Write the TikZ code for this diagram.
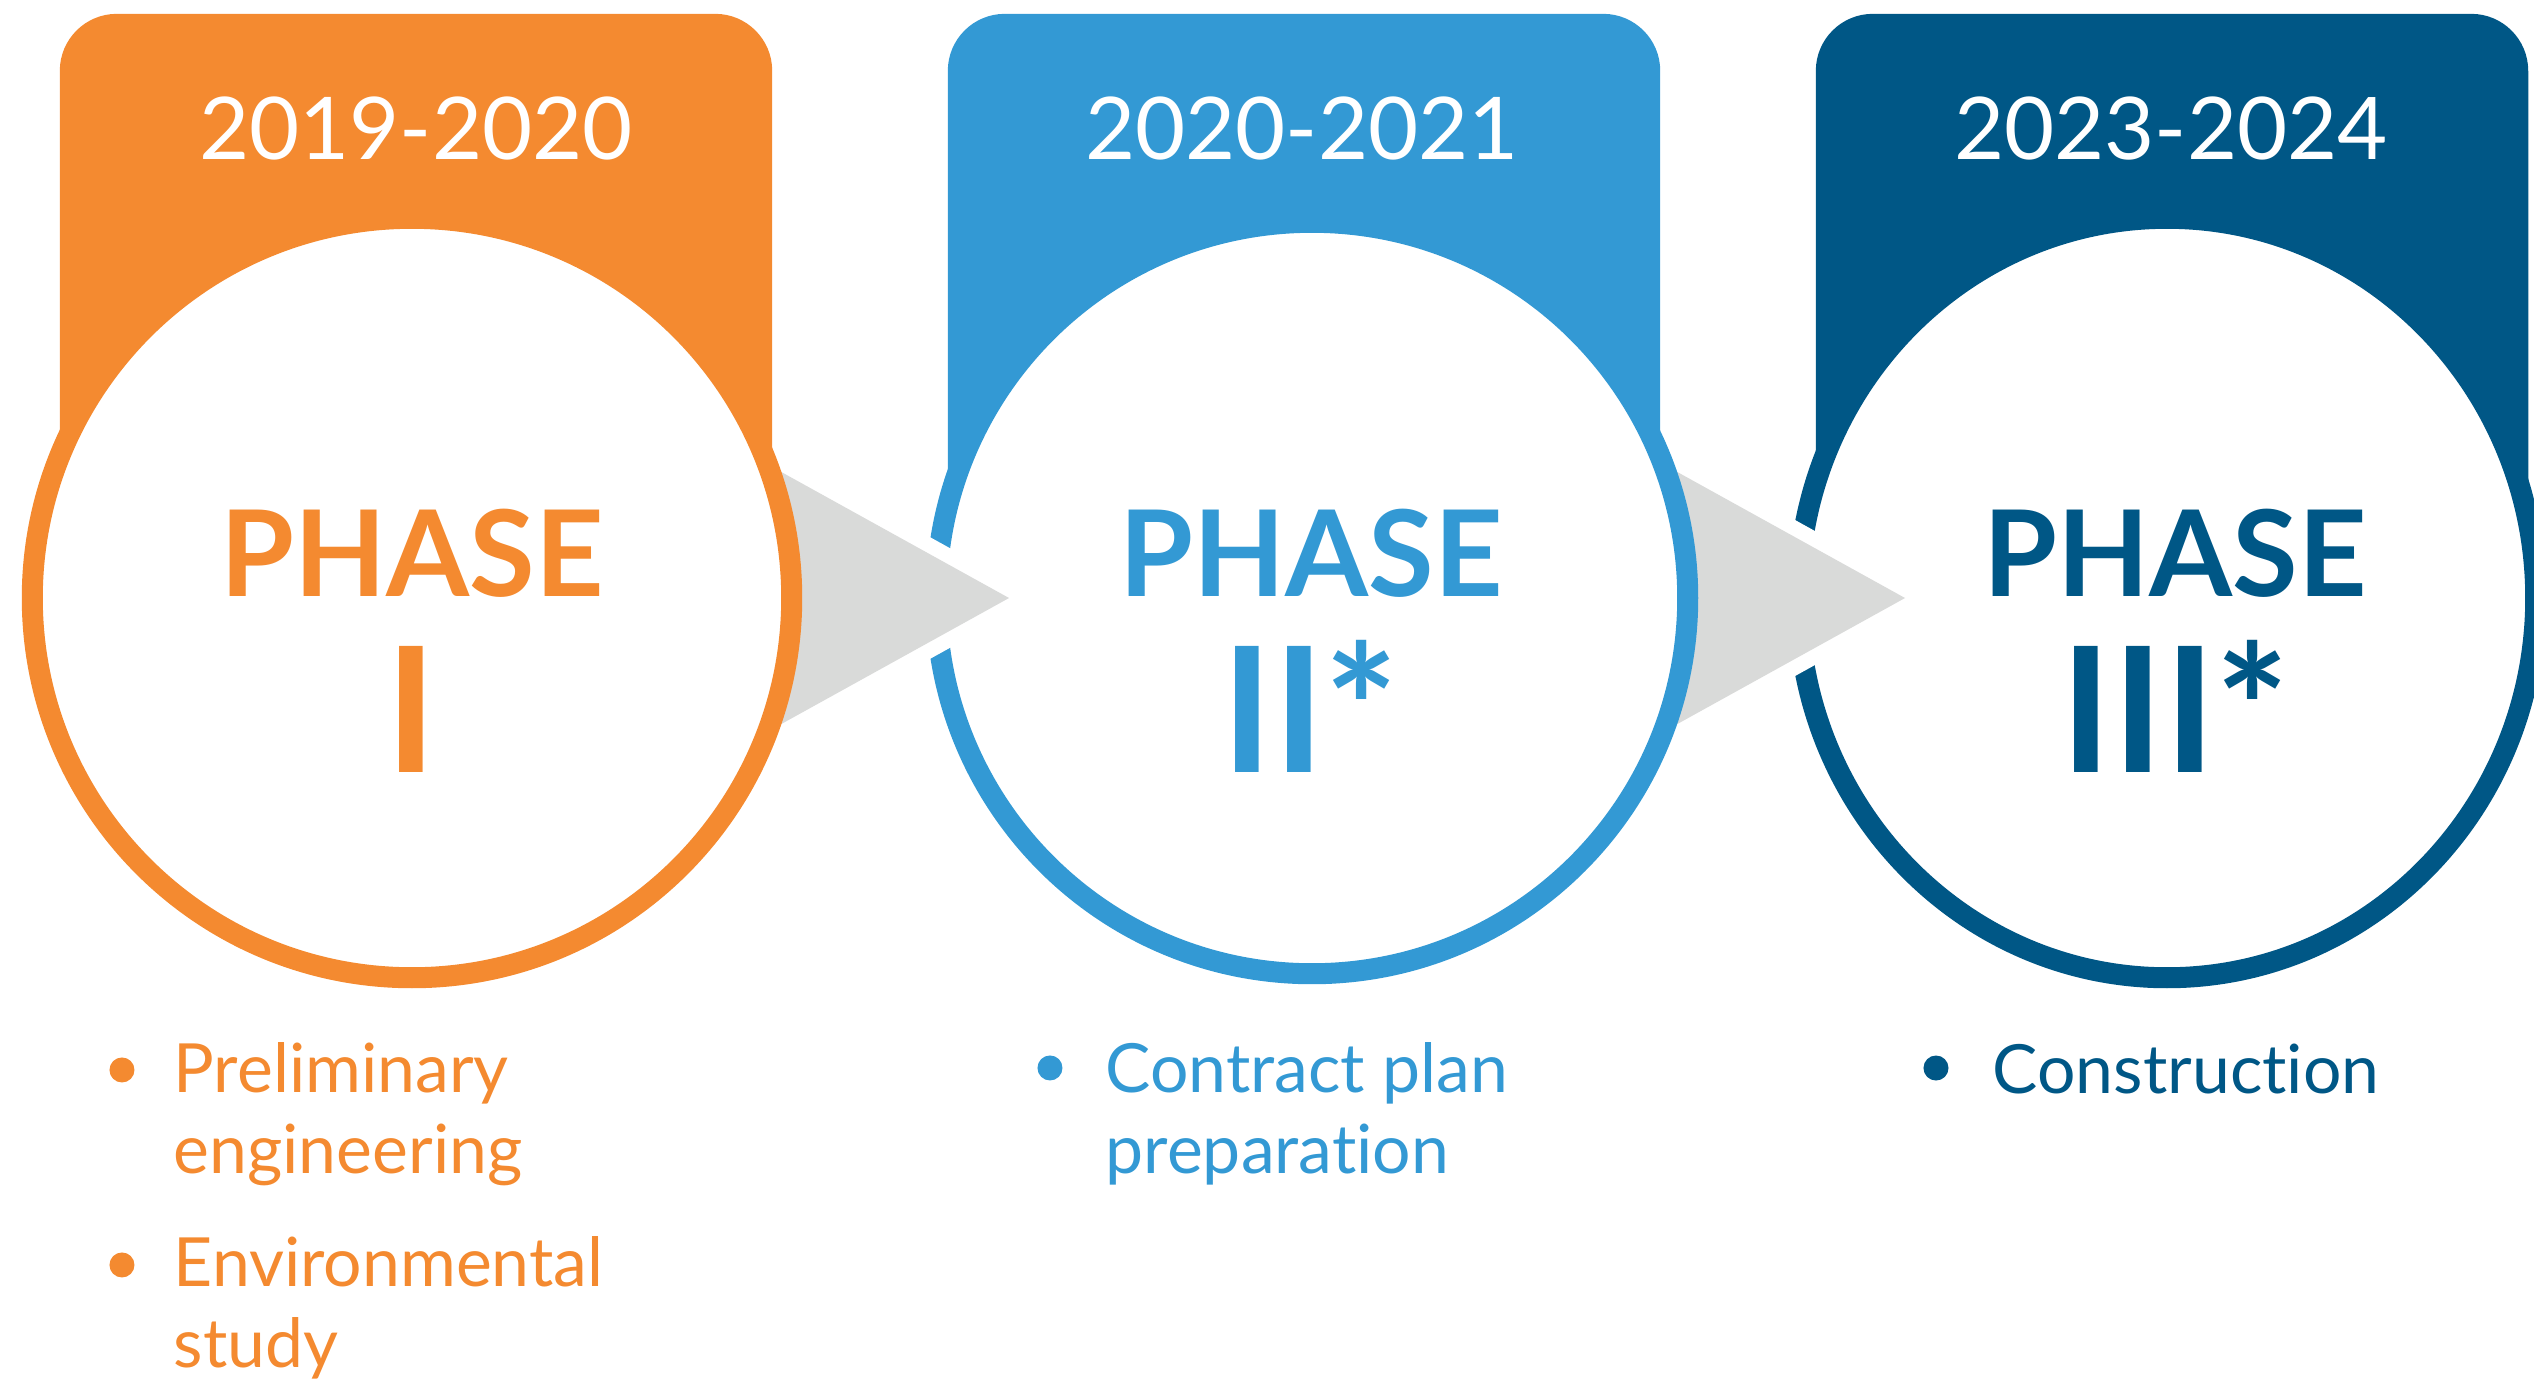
\documentclass[tikz,border=0pt]{standalone}
\usepackage{fontspec}
\setmainfont{Lato}[Ligatures=NoCommon]
\usetikzlibrary{shapes.geometric}
\definecolor{phaseorange}{HTML}{F48A30}
\definecolor{phaseblue}{HTML}{3399D4}
\definecolor{phasenavy}{HTML}{005786}
\definecolor{arrowgray}{HTML}{D9DAD9}
\begin{document}
\begin{tikzpicture}[x=0.01cm, y=-0.01cm,
  tab/.style={fill=#1, rounded corners=0.57cm, minimum width=7.12cm, minimum height=5.84cm, inner sep=0pt},
  ring/.style={draw=#1, fill=white, line width=0.21cm, inner sep=0pt},
  year/.style={text=white, font=\fontsize{24.6}{28}\selectfont, anchor=base},
  phase/.style={text=#1, font=\bfseries\fontsize{34}{40}\selectfont, anchor=base},
  numeral/.style={text=#1, font=\bfseries\fontsize{49.6}{56}\selectfont, anchor=base},
  item/.style={text=#1, font=\fontsize{19.3}{22.8}\selectfont, anchor=base west, align=left, inner sep=0pt},
  dot/.style={circle, fill=#1, minimum size=0.25cm, inner sep=0pt},
  arrowtri/.style={fill=arrowgray, preaction={draw=white, line width=0.3cm, line join=round}}]
  \useasboundingbox (0,0) rectangle (2534,1381);

  % year tabs
  \node[tab=phaseorange] (tab1) at (416,306) {};
  \node[tab=phaseblue] (tab2) at (1304,306) {};
  \node[tab=phasenavy] (tab3) at (2172,306) {};

  % rings and arrows, back to front
  \coordinate (t1) at (1009,598);
  \coordinate (t2) at (1905,598);
  \node[ring=phasenavy, ellipse, minimum width=7.37cm, minimum height=7.59cm] (c3) at (2167,598) {};
  \fill[arrowtri] (t2) -- ++(-309,-171) -- ++(0,342) -- cycle;
  \node[ring=phaseblue, circle, minimum size=7.51cm] (c2) at (1312,598) {};
  \fill[arrowtri] (t1) -- ++(-309,-171) -- ++(0,342) -- cycle;
  \node[ring=phaseorange, circle, minimum size=7.59cm] (c1) at (412,598) {};

  \node[year] (y1) at (416,159) {2019-2020};
  \node[year] (y2) at (1302,159) {2020-2021};
  \node[year] (y3) at (2171,159) {2023-2024};

  \node[phase=phaseorange] (p1) at (412,596) {PHASE};
  \node[phase=phaseblue] (p2) at (1311,596) {PHASE};
  \node[phase=phasenavy] (p3) at (2175,596) {PHASE};
  \node[numeral=phaseorange] (n1) at (411,772) {I};
  \node[numeral=phaseblue] (n2) at (1310,772) {II*};
  \node[numeral=phasenavy] (n3) at (2175,772) {III*};

  % bullet lists (base = last line)
  \node[item=phaseorange] (i1) at (173,1173) {Preliminary\\engineering};
  \node[item=phaseorange] (i2) at (173,1367) {Environmental\\study};
  \node[item=phaseblue] (i3) at (1105,1173) {Contract plan\\preparation};
  \node[item=phasenavy] (i4) at (1992,1093) {Construction};
  \node[dot=phaseorange] (d1) at ([xshift=-0.51cm, yshift=1.03cm]i1.base west) {};
  \node[dot=phaseorange] (d2) at ([xshift=-0.51cm, yshift=1.02cm]i2.base west) {};
  \node[dot=phaseblue] (d3) at ([xshift=-0.55cm, yshift=1.05cm]i3.base west) {};
  \node[dot=phasenavy] (d4) at ([xshift=-0.56cm, yshift=0.25cm]i4.base west) {};
\end{tikzpicture}
\end{document}
